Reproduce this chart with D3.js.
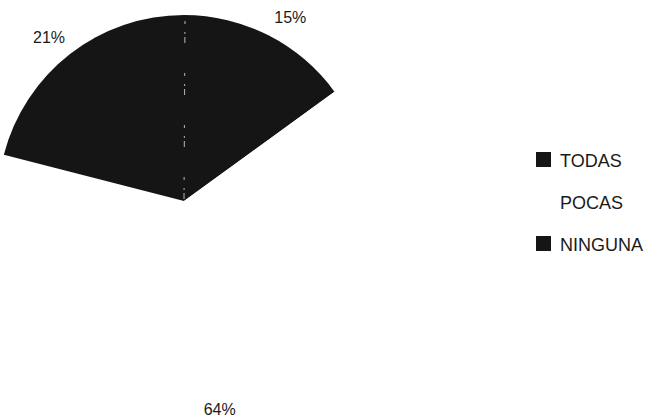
<!DOCTYPE html>
<html><head><meta charset="utf-8">
<script src="https://cdn.jsdelivr.net/npm/d3@7/dist/d3.min.js"></script>
<style>html,body{margin:0;padding:0;background:#fff;}svg{display:block;}</style>
</head><body>
<svg id="c" width="648" height="419"></svg>
<script>
const categories = ["TODAS", "POCAS", "NINGUNA"];
const values = [15, 64, 21];
const labels = ["15%", "64%", "21%"];
const colors = ["#151515", "#ffffff", "#151515"];

const svg = d3.select("#c");
const cx = 184, cy = 201, R = 186, labelR = 212;
// small layout nudges for the outside labels (drawing only)
const nudge = {TODAS: [10, 5], POCAS: [-4, 0], NINGUNA: [-5, 4]};

const pie = d3.pie().sort(null).value(d => d.v).startAngle(0).endAngle(2 * Math.PI);
const data = categories.map((c, i) => ({c, v: values[i], col: colors[i], lab: labels[i]}));
const arcs = pie(data);
const arc = d3.arc().innerRadius(0).outerRadius(R);
const labelArc = d3.arc().innerRadius(labelR).outerRadius(labelR);

const g = svg.append("g").attr("transform", `translate(${cx},${cy})`);
g.selectAll("path.slice").data(arcs).join("path")
  .attr("class", "slice")
  .attr("d", arc)
  .attr("fill", d => d.data.col);

// faint scan-like boundary at the start angle
const p0 = d3.pointRadial(arcs[0].startAngle, R - 2);
g.append("line").attr("x1", 0).attr("y1", -2).attr("x2", p0[0] + 1).attr("y2", p0[1])
  .attr("stroke", "#b8b8b8").attr("stroke-width", 1).attr("stroke-dasharray", "6,3,2,8,3,30");

g.selectAll("text.pct").data(arcs).join("text")
  .attr("class", "pct")
  .attr("transform", d => { const c = labelArc.centroid(d); const n = nudge[d.data.c];
      return `translate(${c[0] + n[0]},${c[1] + n[1]})`; })
  .attr("text-anchor", "middle")
  .attr("dy", "0.35em")
  .attr("font-family", "Liberation Sans, Arial, sans-serif")
  .attr("font-size", 16)
  .attr("fill", "#1a1a1a")
  .text(d => d.data.lab);

// legend
const legY = d3.scalePoint().domain(categories).range([159.5, 243.5]);
const leg = svg.append("g");
leg.selectAll("rect").data(data).join("rect")
  .attr("x", 536).attr("y", d => legY(d.c) - 7.5)
  .attr("width", 15).attr("height", 15)
  .attr("fill", d => d.col);
leg.selectAll("text").data(data).join("text")
  .attr("x", 560).attr("y", d => legY(d.c) + 7)
  .attr("font-family", "Liberation Sans, Arial, sans-serif")
  .attr("font-size", 18)
  .attr("fill", "#1a1a1a")
  .text(d => d.c);
</script>
</body></html>
